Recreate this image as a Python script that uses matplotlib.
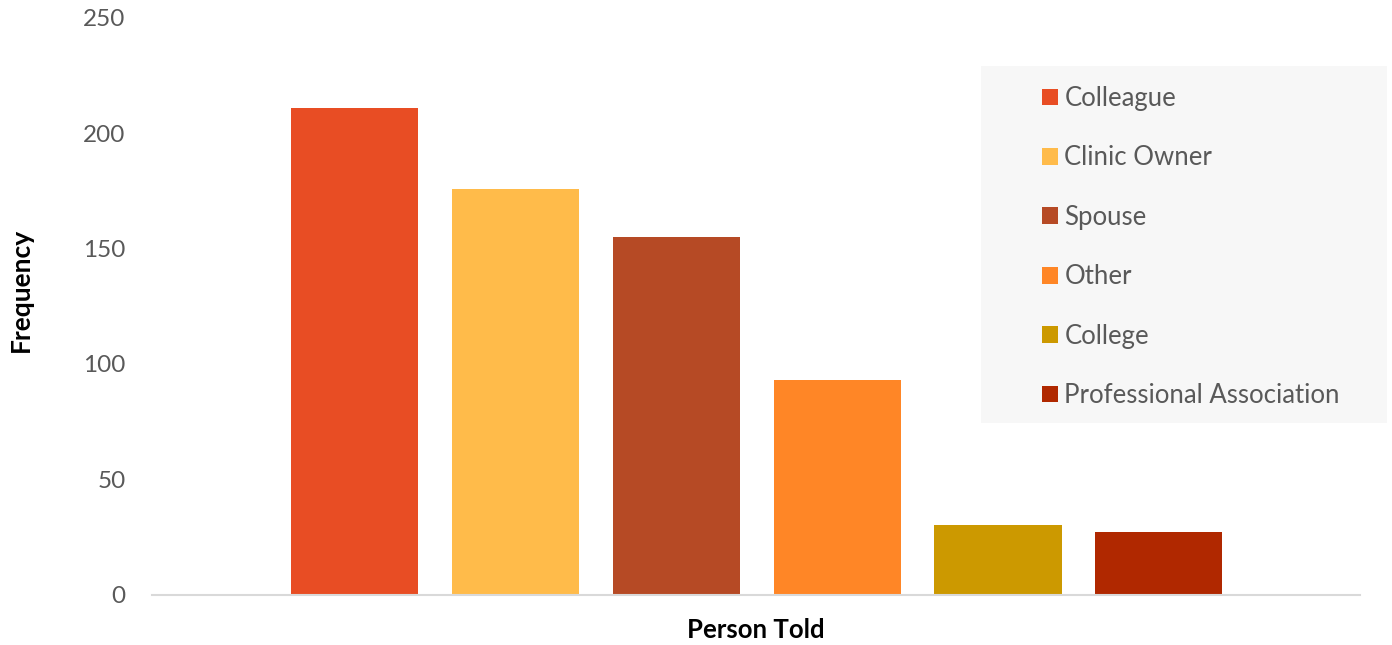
import matplotlib
matplotlib.use("Agg")
import matplotlib.pyplot as plt
from matplotlib.patches import Patch, Rectangle

# Who respondents told
categories = ["Colleague", "Clinic Owner", "Spouse", "Other", "College",
              "Professional Association"]
frequency = [211, 176, 155, 93, 30, 27]
colors = ["#E84D24", "#FFBB4A", "#B64A25", "#FF8626", "#CC9900", "#B02800"]
y_ticks = [0, 50, 100, 150, 200, 250]

plt.rcParams["font.family"] = ["Lato", "DejaVu Sans"]

W, H = 1392, 645
fig = plt.figure(figsize=(W / 100, H / 100), dpi=100)
ax = fig.add_axes([152 / W, 1 - 594.5 / H, (1360 - 152) / W, (594.5 - 18) / H])

x = list(range(len(categories)))
ax.bar(x, frequency, width=0.79, color=colors, zorder=2)

ax.set_xlim(-1.258, len(categories) - 1 + 1.25)
ax.set_ylim(0, 250)
ax.set_yticks(y_ticks)
ax.set_yticklabels([str(t) for t in y_ticks], fontsize=17.5, color="#595959")
ax.tick_params(axis="y", length=0, pad=19)
ax.set_xticks([])

for side in ["top", "right", "left"]:
    ax.spines[side].set_visible(False)
ax.spines["bottom"].set_color("#D9D9D9")
ax.spines["bottom"].set_linewidth(1.5)

ax.set_ylabel("Frequency", fontsize=19, fontweight="bold", labelpad=36,
              y=0.529)
ax.set_xlabel("Person Told", fontsize=18.5, fontweight="bold", labelpad=17)

# Legend panel
fig.patches.append(Rectangle((981 / W, 1 - 423 / H), (1387 - 981) / W,
                             (423 - 66) / H, transform=fig.transFigure,
                             facecolor="#F7F7F7", edgecolor="none", zorder=0))
handles = [Patch(facecolor=c, edgecolor="none") for c in colors]
fs = 18.5
leg = fig.legend(handles, categories, loc="upper left",
                 bbox_to_anchor=(1042 / W, 1 - 86 / H),
                 frameon=False, fontsize=fs, handlelength=0.62,
                 handleheight=0.62, handletextpad=0.25, labelspacing=1.34,
                 borderpad=0, borderaxespad=0)
for t in leg.get_texts():
    t.set_color("#595959")

fig.savefig("out.png", dpi=100)
